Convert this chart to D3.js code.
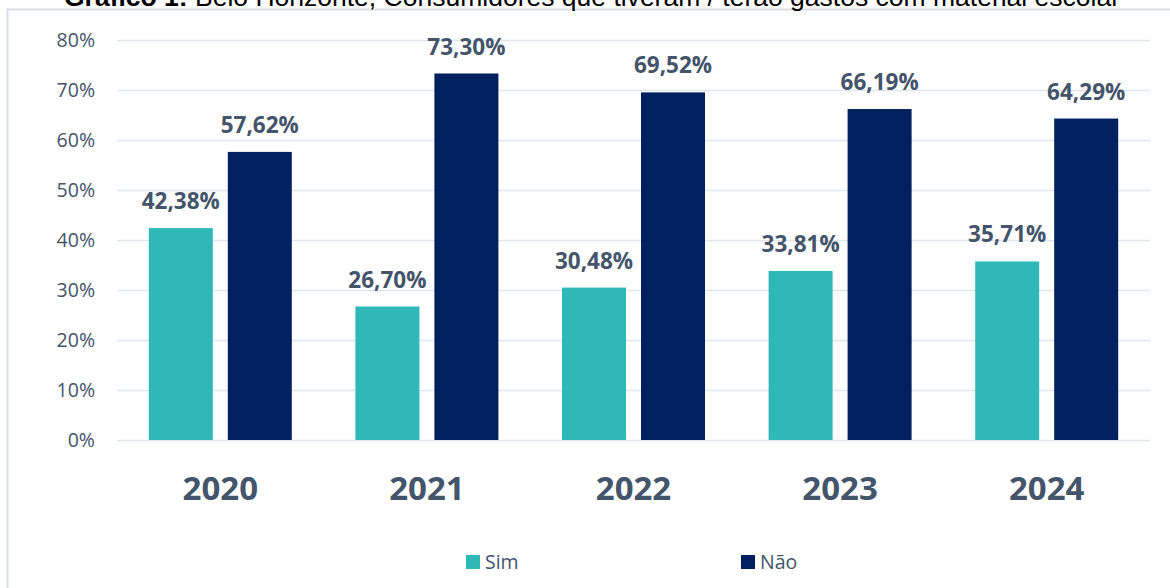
<!DOCTYPE html>
<html><head><meta charset="utf-8">
<script src="https://cdn.jsdelivr.net/npm/d3@7"></script>
<style>body{margin:0;background:#fff;} svg{display:block;}</style>
</head><body>
<svg id="c" width="1170" height="588"></svg>
<script>
const categories = ["2020","2021","2022","2023","2024"];
const seriesNames = ["Sim","Não"];
const sim = [42.38, 26.70, 30.48, 33.81, 35.71];
const nao = [57.62, 73.30, 69.52, 66.19, 64.29];
const yTicks = [0,10,20,30,40,50,60,70,80];
const colors = ["#2EB9B8", "#00205F"];
const textColor = "#44546A";

const svg = d3.select("#c");
// frame
svg.append("rect").attr("x",7.5).attr("y",9.5).attr("width",1180).attr("height",600)
  .attr("fill","none").attr("stroke","#D9DEE6").attr("stroke-width",2);
// title (clipped at top, as in the reference)
const title = svg.append("text").attr("x",592).attr("y",6).attr("text-anchor","middle")
  .attr("font-family","Liberation Sans, Arial").attr("font-size",26.5).attr("fill","#000");
title.append("tspan").attr("font-weight","bold").text("Gráfico 1: ");
title.append("tspan").text("Belo Horizonte, Consumidores que tiveram / terão gastos com material escolar");

const x0 = d3.scaleBand().domain(categories).range([117,1150]).paddingInner(0).paddingOuter(0);
const y = d3.scaleLinear().domain([0,80]).range([440,40]);
const x1 = d3.scaleBand().domain(seriesNames).range([0,143]).paddingInner(15/79).paddingOuter(0);
const off = (x0.bandwidth()-143)/2;

// gridlines
svg.append("g").selectAll("line").data(yTicks).join("line")
  .attr("x1",117).attr("x2",1150).attr("y1",d=>y(d)+0.5).attr("y2",d=>y(d)+0.5)
  .attr("stroke","#E1E5EC").attr("stroke-width",1.5);

// y axis labels
const yAxis = d3.axisLeft(y).tickValues(yTicks).tickFormat(d=>d+"%").tickSize(0).tickPadding(0);
const ya = svg.append("g").attr("transform","translate(95,0)").call(yAxis);
ya.select(".domain").remove();
ya.selectAll("text").attr("font-family","Open Sans").attr("font-size",19.5).attr("fill",textColor).attr("dy","0.35em");

const data = categories.map((c,i)=>({cat:c, vals:[{s:"Sim",v:sim[i]},{s:"Não",v:nao[i]}]}));
const g = svg.append("g").selectAll("g").data(data).join("g")
  .attr("transform",d=>`translate(${x0(d.cat)+off},0)`);
g.selectAll("rect").data(d=>d.vals).join("rect")
  .attr("x",d=>x1(d.s)).attr("width",x1.bandwidth())
  .attr("y",d=>y(d.v)).attr("height",d=>440-y(d.v))
  .attr("fill",(d,i)=>colors[i]);
g.selectAll("text").data(d=>d.vals).join("text")
  .attr("x",d=>x1(d.s)+x1.bandwidth()/2).attr("y",d=>y(d.v)-19)
  .attr("text-anchor","middle").attr("font-family","Open Sans").attr("font-weight","bold")
  .attr("font-size",22.5).attr("fill",textColor)
  .text(d=>d.v.toFixed(2).replace(".",",")+"%");

// x axis labels
const xAxis = d3.axisBottom(x0).tickSize(0).tickPadding(0);
const xa = svg.append("g").attr("transform","translate(0,500)").call(xAxis);
xa.select(".domain").remove();
xa.selectAll("text").attr("font-family","Open Sans").attr("font-weight","bold").attr("font-size",33)
  .attr("fill",textColor).attr("dy","0");

// legend
const legX = [466, 741];
const lg = svg.append("g").selectAll("g").data(seriesNames).join("g")
  .attr("transform",(d,i)=>`translate(${legX[i]},555)`);
lg.append("rect").attr("width",14).attr("height",14).attr("fill",(d,i)=>colors[i]);
lg.append("text").attr("x",19).attr("y",14).attr("font-family","Open Sans").attr("font-size",19.5)
  .attr("fill",textColor).text(d=>d);
</script>
</body></html>
